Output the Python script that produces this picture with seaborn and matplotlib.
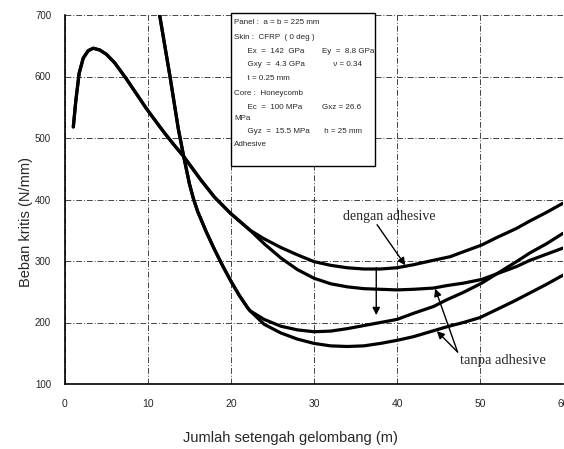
import numpy as np
import pandas as pd
import matplotlib
matplotlib.use("Agg")
import matplotlib.pyplot as plt
import seaborn as sns
from matplotlib.patches import Rectangle

# ---- data ----
# upper pair (dengan adhesive), shared rising/peak branch
x_up_shared = [1, 1.3, 1.7, 2.2, 2.8, 3.4, 4.2, 5, 6, 7.4, 8.5, 9.8, 11, 12, 13, 14.3, 16.3, 18, 19.9, 22.3]
y_up_shared = [518, 560, 605, 630, 642, 646, 643, 636, 622, 596, 574, 548, 526, 508, 491, 470, 433, 404, 378, 350]

x_up1 = [24, 26, 28, 30, 32, 34, 36, 38, 40, 42, 44, 46.4, 48, 50.2, 52, 54.4, 56, 58, 60]
y_up1 = [336, 322, 310, 299, 293, 289, 287, 287, 289, 294, 300, 307, 315, 326, 338, 353, 365, 379, 394]

x_up2 = [24, 26, 28, 30, 32, 34, 36, 38, 40, 42, 44.4, 46, 48, 50.2, 52, 54.4, 56, 58, 60]
y_up2 = [328, 305, 286, 272, 263, 258, 255, 254, 253, 254, 256, 260, 264, 270, 279, 291, 301, 311, 321]

# lower pair (tanpa adhesive), shared steep branch
x_lo_shared = [11.4, 12.65, 13.65, 14.3, 15, 15.5, 16, 17, 18, 19, 20, 21, 22, 22.3]
y_lo_shared = [700, 600, 515, 470, 425, 400, 380, 348, 319, 292, 267, 244, 224, 219]

x_lo1 = [24, 26, 28, 30, 32, 34, 36, 38, 40, 42, 44.4, 46, 48, 50.2, 52, 54.4, 56, 58, 60]
y_lo1 = [205, 194, 188, 185, 186, 190, 195, 200, 205, 215, 226, 237, 249, 264, 279, 299, 313, 328, 345]

x_lo2 = [24, 26, 28, 30, 32, 34, 36, 38, 40, 42, 44, 46, 48, 50, 52, 54, 56, 58, 60]
y_lo2 = [197, 183, 173, 166, 162, 161, 162, 166, 171, 177, 185, 193, 200, 208, 221, 234, 248, 262, 277]

x_ticks = [0, 10, 20, 30, 40, 50, 60]
y_ticks = [100, 200, 300, 400, 500, 600, 700]

box_lines = [
    ("Panel :  a = b = 225 mm", ""),
    ("Skin :  CFRP  ( 0 deg )", ""),
    ("      Ex  =  142  GPa", "Ey  =  8.8 GPa"),
    ("      Gxy  =  4.3 GPa", "     ν = 0.34"),
    ("      t = 0.25 mm", ""),
    ("Core :  Honeycomb", ""),
    ("      Ec  =  100 MPa", "Gxz = 26.6"),
    ("MPa", ""),
    ("      Gyz  =  15.5 MPa", " h = 25 mm"),
    ("Adhesive", ""),
]

# ---- build long-form frame ----
series = {
    "up1": (x_up_shared + x_up1, y_up_shared + y_up1),
    "up2": (x_up_shared + x_up2, y_up_shared + y_up2),
    "lo1": (x_lo_shared + x_lo1, y_lo_shared + y_lo1),
    "lo2": (x_lo_shared + x_lo2, y_lo_shared + y_lo2),
}
rows = []
for name, (xs, ys) in series.items():
    for xv, yv in zip(xs, ys):
        rows.append({"m": xv, "load": yv, "curve": name})
df = pd.DataFrame(rows)

sns.set_theme(style="white")
plt.rcParams["font.family"] = ["Liberation Sans", "DejaVu Sans"]

fig = plt.figure(figsize=(5.64, 4.49), dpi=100)
ax = fig.add_axes([65/564, 1-384/449, (563-65)/564, (384-15)/449])

sns.lineplot(data=df, x="m", y="load", units="curve", estimator=None,
             color="black", lw=2.3, ax=ax, sort=False, legend=False)

ax.set_xlim(0, 60)
ax.set_ylim(100, 700)
ax.set_xticks(x_ticks)
ax.set_yticks(y_ticks)
ax.set_xticklabels([str(v) for v in x_ticks], fontsize=7.5)
ax.set_yticklabels([str(v) for v in y_ticks], fontsize=7)
ax.tick_params(axis="x", length=0, pad=11)
ax.tick_params(axis="y", length=0, pad=10)

ax.grid(True, color="#444444", lw=0.7, ls=(0, (6, 2, 1, 2)))
for s in ["top", "right"]:
    ax.spines[s].set_visible(False)
for s in ["left", "bottom"]:
    ax.spines[s].set_color("black")
    ax.spines[s].set_linewidth(1.2)

ax.set_xlabel("Jumlah setengah gelombang (m)", fontsize=10.5)
ax.set_ylabel("Beban kritis (N/mm)", fontsize=10.5)
ax.xaxis.set_label_coords(0.452, -0.128)
ax.yaxis.set_label_coords(-0.064, 0.44)

# info box
ax.add_patch(Rectangle((20, 454), 17.3, 250, facecolor="white", edgecolor="black",
                       lw=1.0, zorder=5, clip_on=False))
line_y = [687, 664, 641, 619, 596, 573, 550, 531, 511, 489]
for (left, right), yy in zip(box_lines, line_y):
    ax.text(20.4, yy, left, fontsize=5.8, va="center", ha="left", zorder=6)
    if right:
        ax.text(31.0, yy, right, fontsize=5.8, va="center", ha="left", zorder=6)

# annotations
serif = ["Liberation Serif", "DejaVu Serif"]
ax.text(39.1, 372, "dengan adhesive", family=serif, fontsize=10, ha="center", va="center")
ax.text(52.8, 139, "tanpa adhesive", family=serif, fontsize=10.5, ha="center", va="center")
ap = dict(arrowstyle="-|>", color="black", lw=1.0, mutation_scale=11, shrinkA=0, shrinkB=0)
ax.annotate("", xy=(41.0, 293), xytext=(37.6, 359), arrowprops=ap)
ax.annotate("", xy=(37.5, 212), xytext=(37.5, 289), arrowprops=ap)
ax.annotate("", xy=(44.6, 255), xytext=(47.3, 152), arrowprops=ap)
ax.annotate("", xy=(44.8, 186), xytext=(47.3, 152), arrowprops=ap)

fig.savefig("out.png", dpi=100)
